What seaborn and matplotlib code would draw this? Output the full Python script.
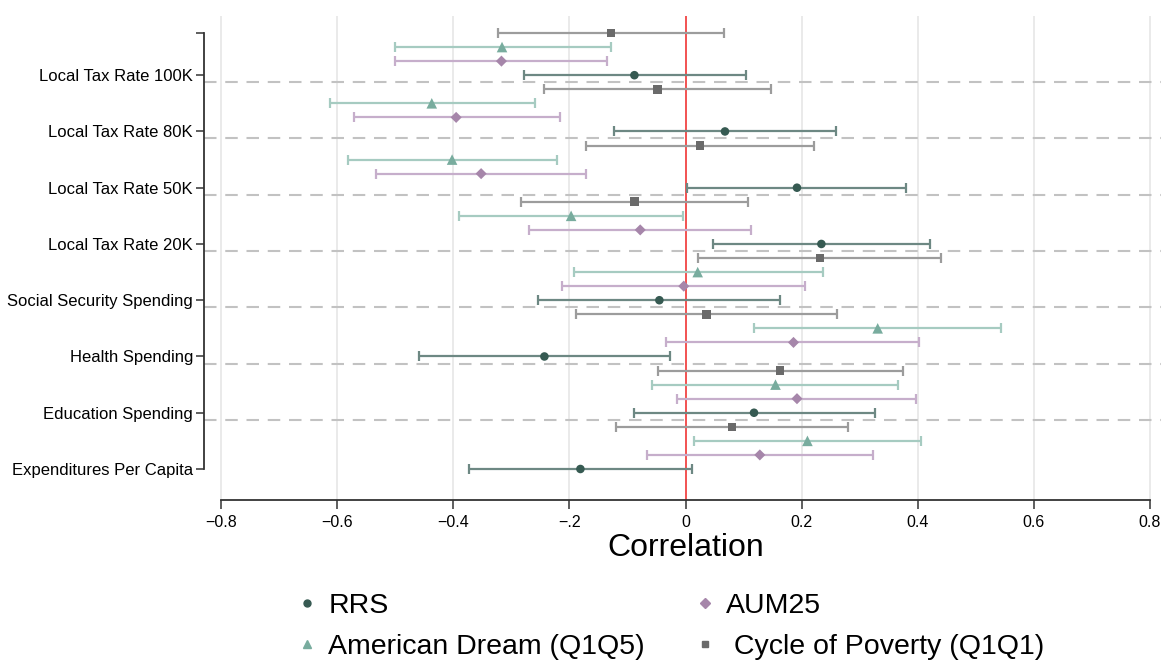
import matplotlib
matplotlib.use("Agg")
import matplotlib.pyplot as plt
import matplotlib.transforms as mtransforms
from matplotlib.lines import Line2D
import seaborn as sns
import pandas as pd

# ---------------- data ----------------
categories = ["Local Tax Rate 100K", "Local Tax Rate 80K", "Local Tax Rate 50K",
              "Local Tax Rate 20K", "Social Security Spending", "Health Spending",
              "Education Spending", "Expenditures Per Capita"]

rrs_est = [-0.088, 0.068, 0.192, 0.234, -0.045, -0.243, 0.118, -0.181]
rrs_lo  = [-0.279, -0.124, 0.002, 0.048, -0.254, -0.459, -0.089, -0.373]
rrs_hi  = [0.105, 0.260, 0.380, 0.421, 0.163, -0.027, 0.326, 0.012]

aum_est = [-0.317, -0.395, -0.352, -0.078, -0.003, 0.186, 0.192, 0.128]
aum_lo  = [-0.500, -0.571, -0.533, -0.270, -0.213, -0.033, -0.014, -0.067]
aum_hi  = [-0.135, -0.217, -0.172, 0.113, 0.206, 0.403, 0.397, 0.323]

ad_est = [-0.316, -0.437, -0.402, -0.197, 0.021, 0.331, 0.155, 0.210]
ad_lo  = [-0.501, -0.613, -0.582, -0.390, -0.192, 0.118, -0.057, 0.015]
ad_hi  = [-0.128, -0.260, -0.222, -0.005, 0.237, 0.543, 0.366, 0.406]

cop_est = [-0.128, -0.048, 0.025, -0.088, 0.232, 0.036, 0.163, 0.080]
cop_lo  = [-0.323, -0.244, -0.171, -0.283, 0.022, -0.189, -0.048, -0.120]
cop_hi  = [0.066, 0.147, 0.221, 0.108, 0.440, 0.261, 0.375, 0.280]

series_names = ["RRS", "AUM25", "American Dream (Q1Q5)", "Cycle of Poverty (Q1Q1)"]
legend_labels = ["RRS", "American Dream (Q1Q5)", "AUM25", " Cycle of Poverty (Q1Q1)"]

xticks = [-0.8, -0.6, -0.4, -0.2, 0.0, 0.2, 0.4, 0.6, 0.8]
xticklabels = ["\u22120.8", "\u22120.6", "\u22120.4", "\u2212.2", "0", "0.2", "0.4", "0.6", "0.8"]

# ---------------- style ----------------
sns.set_style("white")
plt.rcParams["font.family"] = ["Liberation Sans", "DejaVu Sans"]
plt.rcParams["text.color"] = "black"
plt.rcParams["xtick.color"] = "black"
plt.rcParams["ytick.color"] = "black"

styles = {
    "RRS": dict(offset=0.0, marker="o", s=38, mcol="#365a52", lcol="#6d8883"),
    "AUM25": dict(offset=0.25, marker="D", s=32, mcol="#a686aa", lcol="#c6aecb"),
    "American Dream (Q1Q5)": dict(offset=0.5, marker="^", s=58, mcol="#78ac9e", lcol="#a6cbc1"),
    "Cycle of Poverty (Q1Q1)": dict(offset=0.75, marker="s", s=38, mcol="#6a6a6a", lcol="#9c9c9c"),
}
data = {
    "RRS": (rrs_est, rrs_lo, rrs_hi),
    "AUM25": (aum_est, aum_lo, aum_hi),
    "American Dream (Q1Q5)": (ad_est, ad_lo, ad_hi),
    "Cycle of Poverty (Q1Q1)": (cop_est, cop_lo, cop_hi),
}

W, H = 1164, 663
fig = plt.figure(figsize=(W / 100, H / 100), dpi=100)
ax_left_px, ax_right_px, ax_top_px, ax_bot_px = 204, 1161, 16, 500
ax = fig.add_axes([ax_left_px / W, 1 - ax_bot_px / H,
                   (ax_right_px - ax_left_px) / W, (ax_bot_px - ax_top_px) / H])

# x scale: -0.8 at px 221, 0.8 at px 1150
ppu = (1150 - 221) / 1.6
xmin = -0.8 - (221 - ax_left_px) / ppu
xmax = 0.8 + (ax_right_px - 1150) / ppu
ax.set_xlim(xmin, xmax)
# y: rows 14.06 px apart, category every 4 rows
ypu = 56.25
ytop = -0.75 - (33 - ax_top_px) / ypu
ybot = 7 + (ax_bot_px - 469) / ypu
ax.set_ylim(ybot, ytop)

# grid & reference lines
for xv in xticks:
    ax.axvline(xv, color="#e4e4e4", lw=1.1, zorder=0)
for i in range(len(categories) - 1):
    ax.axhline(i + 0.125, color="#c2c2c2", lw=1.5, ls=(0, (6, 4.2)), zorder=1)
ax.axvline(0, color="#f52a2a", lw=1.1, zorder=2)

# draw series
for name in series_names:
    st = styles[name]
    est, lo, hi = data[name]
    df = pd.DataFrame({"category": categories, "est": est, "lo": lo, "hi": hi})
    df["y"] = [i - st["offset"] for i in range(len(categories))]
    ax.errorbar(df["est"], df["y"], xerr=[df["est"] - df["lo"], df["hi"] - df["est"]],
                fmt="none", ecolor=st["lcol"], elinewidth=1.6, capsize=3.5,
                capthick=1.6, zorder=3)
    sns.scatterplot(data=df, x="est", y="y", marker=st["marker"], s=st["s"],
                    color=st["mcol"], edgecolor="none", linewidth=0, ax=ax,
                    zorder=4, legend=False)

# axes styling
for sp in ["top", "right"]:
    ax.spines[sp].set_visible(False)
ax.spines["bottom"].set_bounds(-0.8, 0.8)
ax.spines["left"].set_bounds(-0.75, 7)
for sp in ["bottom", "left"]:
    ax.spines[sp].set_linewidth(1.3)
    ax.spines[sp].set_color("#333333")

ax.set_xticks(xticks)
ax.set_xticklabels(xticklabels)
ax.set_yticks([-0.75] + list(range(len(categories))))
ax.set_yticklabels([""] + categories)
ax.tick_params(axis="x", direction="out", length=6.5, width=1.1, pad=4,
               labelsize=11.5, color="#333333", bottom=True)
ax.tick_params(axis="y", direction="out", length=6, width=1.1, pad=2,
               labelsize=12, color="#333333", left=True)
ax.set_xlabel("")
ax.set_ylabel("")

trans = mtransforms.blended_transform_factory(ax.transData, fig.transFigure)
ax.text(0, 1 - 548 / H, "Correlation", transform=trans, ha="center", va="center",
        fontsize=23)

# legend
handles = [
    Line2D([], [], ls="none", marker=styles["RRS"]["marker"], color=styles["RRS"]["mcol"], markersize=5),
    Line2D([], [], ls="none", marker=styles["American Dream (Q1Q5)"]["marker"], color=styles["American Dream (Q1Q5)"]["mcol"], markersize=5.5),
    Line2D([], [], ls="none", marker=styles["AUM25"]["marker"], color=styles["AUM25"]["mcol"], markersize=5),
    Line2D([], [], ls="none", marker=styles["Cycle of Poverty (Q1Q1)"]["marker"], color=styles["Cycle of Poverty (Q1Q1)"]["mcol"], markersize=5),
]
fig.legend(handles, legend_labels, ncol=2, loc="upper left",
           bbox_to_anchor=((293 - 9) / W, 1 - 582 / H), frameon=False,
           fontsize=20.5, handlelength=0.8, handletextpad=0.35,
           columnspacing=1.7, labelspacing=0.5, borderaxespad=0, borderpad=0.4)

fig.savefig("out.png", dpi=100)
